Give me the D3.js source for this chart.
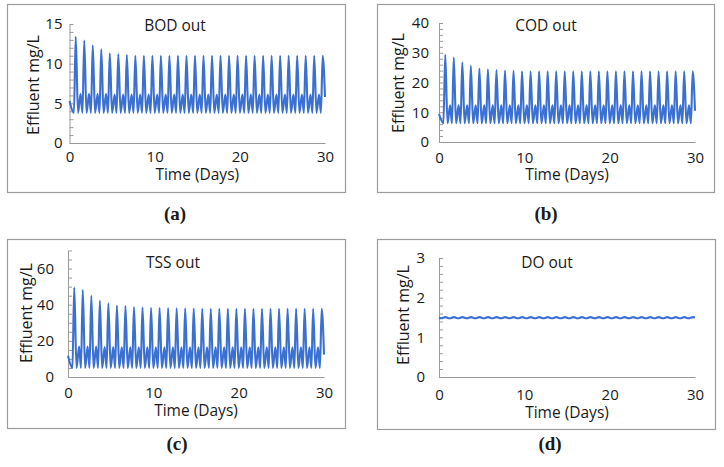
<!DOCTYPE html>
<html><head><meta charset="utf-8">
<script src="https://cdn.jsdelivr.net/npm/d3@7"></script>
<style>
body{margin:0;background:#fff}
svg{display:block}
</style>
</head><body>
<svg id="c" width="724" height="467"></svg>
<script>
// ---------- data ----------
const xTickLabels = [0, 10, 20, 30];
// phase (fraction of a day) of: first trough, hump, second trough, tall peak
const cyclePhase = [0.0, 0.3, 0.52, 0.73];

const bodPeak   = [13.4,12.9,12.3,11.8,11.3,11.2,11.1,11.0,11.0,11.0,11.0,11.0,11.0,11.0,11.0,11.0,11.0,11.0,11.0,11.0,11.0,11.0,11.0,11.0,11.0,11.0,11.0,11.0,11.0,11.0];
const bodHump   = [6.1,6.2,6.2,6.2,6.2,6.1,6.1,6.1,6.1,6.1,6.1,6.1,6.1,6.1,6.1,6.1,6.1,6.1,6.1,6.1,6.1,6.1,6.1,6.1,6.1,6.1,6.1,6.1,6.1,6.1];
const bodTrough = [3.8,3.8,3.8,3.8,3.8,3.8,3.8,3.8,3.8,3.8,3.8,3.8,3.8,3.8,3.8,3.8,3.8,3.8,3.8,3.8,3.8,3.8,3.8,3.8,3.8,3.8,3.8,3.8,3.8,3.8];
const bodStartEnd = [5.3, 5.8];

const codPeak   = [29.3,28.4,26.8,25.6,24.7,24.4,24.2,24.0,23.9,23.8,23.8,23.8,23.8,23.8,23.8,23.8,23.8,23.8,23.8,23.8,23.8,23.8,23.8,23.8,23.8,23.8,23.8,23.8,23.8,23.8];
const codHump   = [12.3,12.3,12.3,12.3,12.3,12.3,12.3,12.3,12.3,12.3,12.3,12.3,12.3,12.3,12.3,12.3,12.3,12.3,12.3,12.3,12.3,12.3,12.3,12.3,12.3,12.3,12.3,12.3,12.3,12.3];
const codTrough = [6.3,6.3,6.3,6.3,6.3,6.3,6.3,6.3,6.3,6.3,6.3,6.3,6.3,6.3,6.3,6.3,6.3,6.3,6.3,6.3,6.3,6.3,6.3,6.3,6.3,6.3,6.3,6.3,6.3,6.3];
const codStartEnd = [9.4, 10.5];

const tssPeak   = [49.6,48.2,44.9,42.2,40.8,39.6,39.3,38.7,38.5,38.3,38.2,38.1,38.0,38.0,37.9,37.8,37.8,37.8,37.8,37.8,37.8,37.8,37.8,37.8,37.8,37.8,37.8,37.8,37.8,37.8];
const tssHump   = [16.5,16.8,16.8,16.8,16.6,16.6,16.5,16.5,16.5,16.5,16.5,16.5,16.5,16.5,16.5,16.5,16.5,16.5,16.5,16.5,16.5,16.5,16.5,16.5,16.5,16.5,16.5,16.5,16.5,16.5];
const tssTrough = [5.0,5.0,5.0,5.0,5.0,5.0,5.0,5.0,5.0,5.0,5.0,5.0,5.0,5.0,5.0,5.0,5.0,5.0,5.0,5.0,5.0,5.0,5.0,5.0,5.0,5.0,5.0,5.0,5.0,5.0];
const tssStartEnd = [11.8, 12.4];

const doHigh = [1.51,1.51,1.51,1.51,1.51,1.51,1.51,1.51,1.51,1.51,1.51,1.51,1.51,1.51,1.51,1.51,1.51,1.51,1.51,1.51,1.51,1.51,1.51,1.51,1.51,1.51,1.51,1.51,1.51,1.51];
const doLow  = [1.48,1.48,1.48,1.48,1.48,1.48,1.48,1.48,1.48,1.48,1.48,1.48,1.48,1.48,1.48,1.48,1.48,1.48,1.48,1.48,1.48,1.48,1.48,1.48,1.48,1.48,1.48,1.48,1.48,1.48];
const doStartEnd = [1.5, 1.5];

const bodYTicks = [0, 5, 10, 15];
const codYTicks = [0, 10, 20, 30, 40];
const tssYTicks = [0, 20, 40, 60];
const doYTicks  = [0, 1, 2, 3];

// ---------- build series ----------
function cycleSeries(startEnd, peak, hump, trough) {
  const pts = [[0, startEnd[0]]];
  peak.forEach((p, d) => {
    if (d > 0) {
      pts.push([d + cyclePhase[0], trough[d]]);
      pts.push([d + cyclePhase[1], hump[d]]);
    }
    pts.push([d + cyclePhase[2], trough[d]]);
    pts.push([d + cyclePhase[3], p]);
  });
  pts.push([30, startEnd[1]]);
  return pts;
}
function waveSeries(startEnd, high, low) {
  const pts = [[0, startEnd[0]]];
  high.forEach((h, d) => {
    pts.push([d + 0.25, low[d]]);
    pts.push([d + 0.75, h]);
  });
  pts.push([30, startEnd[1]]);
  return pts;
}

const panels = [
  {title:"BOD out", cap:"(a)", data:cycleSeries(bodStartEnd,bodPeak,bodHump,bodTrough),
   ymax:15, yTicks:bodYTicks, minor:1,
   box:[7,4,345,192], x0:69.5, x1:325, y0:143, yTop:24, lblGap:7, xPad:8,
   titleXY:[175,31], xlabY:180, ylabX:33, ylabY:85, capXY:[175,220]},
  {title:"COD out", cap:"(b)", data:cycleSeries(codStartEnd,codPeak,codHump,codTrough),
   ymax:40, yTicks:codYTicks, minor:2,
   box:[377,4,714,192], x0:439, x1:695, y0:142, yTop:23, lblGap:10, xPad:10,
   titleXY:[546,31], xlabY:180, ylabX:398, ylabY:83, capXY:[546,220]},
  {title:"TSS out", cap:"(c)", data:cycleSeries(tssStartEnd,tssPeak,tssHump,tssTrough),
   ymax:70, yTicks:tssYTicks, minor:5,
   box:[7,239,345,428], x0:68, x1:324, y0:377, yTop:250.5, lblGap:14, xPad:10,
   titleXY:[173,268], xlabY:416, ylabX:26, ylabY:313, capXY:[177,450]},
  {title:"DO out", cap:"(d)", data:waveSeries(doStartEnd,doHigh,doLow),
   ymax:3, yTicks:doYTicks, minor:0.2,
   box:[377,239,715,429], x0:439, x1:695, y0:377, yTop:258, lblGap:14, xPad:12,
   titleXY:[547,268], xlabY:418, ylabX:403, ylabY:315, capXY:[550,450]}
];

const svg = d3.select("#c");
const lineColor = "#3b70d3";
const axisColor = "#9a9a9a";
const sans = '"Open Sans", sans-serif';

panels.forEach(p => {
  const g = svg.append("g");
  const [bx0, by0, bx1, by1] = p.box;
  g.append("rect").attr("x", bx0 + 0.5).attr("y", by0 + 0.5)
    .attr("width", bx1 - bx0).attr("height", by1 - by0)
    .attr("fill", "none").attr("stroke", "#9c9c9c").attr("stroke-width", 1.2);

  const x = d3.scaleLinear().domain([0, 30]).range([p.x0, p.x1]);
  const y = d3.scaleLinear().domain([0, p.ymax]).range([p.y0, p.yTop]);

  // minor ticks (inside, to the right) + y axis line
  const nMinor = Math.round(p.ymax / p.minor);
  const minorVals = d3.range(nMinor + 1).map(i => +(i * p.minor).toFixed(4));
  const yMinor = g.append("g").attr("transform", `translate(${p.x0},0)`)
    .call(d3.axisRight(y).tickValues(minorVals).tickSize(4).tickSizeOuter(0).tickFormat(""));
  yMinor.selectAll("path,line").attr("stroke", axisColor);

  // y tick labels
  const yLab = g.append("g").attr("transform", `translate(${p.x0},0)`)
    .call(d3.axisLeft(y).tickValues(p.yTicks).tickSize(0).tickPadding(p.lblGap).tickFormat(d3.format("d")));
  yLab.select(".domain").remove();
  yLab.selectAll("text").style("font-size", "15px").style("font-family", sans).attr("fill", "#1a1a1a");

  // x axis
  const xAx = g.append("g").attr("transform", `translate(0,${p.y0})`)
    .call(d3.axisBottom(x).tickValues(xTickLabels).tickSize(0).tickSizeOuter(0).tickPadding(p.xPad));
  xAx.select(".domain").attr("stroke", axisColor);
  xAx.selectAll("text").style("font-size", "15px").style("font-family", sans).attr("fill", "#1a1a1a");

  // line
  const line = d3.line().x(d => x(d[0])).y(d => y(d[1])).curve(d3.curveMonotoneX);
  g.append("path").datum(p.data).attr("d", line)
    .attr("fill", "none").attr("stroke", lineColor).attr("stroke-width", 2.1).attr("stroke-linejoin", "round");

  // texts
  g.append("text").attr("x", p.titleXY[0]).attr("y", p.titleXY[1]).attr("text-anchor", "middle")
    .style("font-family", sans).style("font-size", "15.5px").attr("fill", "#1a1a1a").text(p.title);
  g.append("text").attr("x", (p.x0 + p.x1) / 2).attr("y", p.xlabY).attr("text-anchor", "middle")
    .style("font-family", sans).style("font-size", "15.5px").attr("fill", "#1a1a1a").text("Time (Days)");
  g.append("text").attr("transform", `translate(${p.ylabX},${p.ylabY}) rotate(-90)`)
    .attr("text-anchor", "middle").attr("dy", "0.35em")
    .style("font-family", sans).style("font-size", "16px").attr("fill", "#1a1a1a").text("Effluent mg/L");
  g.append("text").attr("x", p.capXY[0]).attr("y", p.capXY[1]).attr("text-anchor", "middle")
    .style("font-family", '"Liberation Serif", serif').style("font-weight", "bold").style("font-size", "19px")
    .attr("fill", "#1a1a1a").text(p.cap);
});
</script>
</body></html>
